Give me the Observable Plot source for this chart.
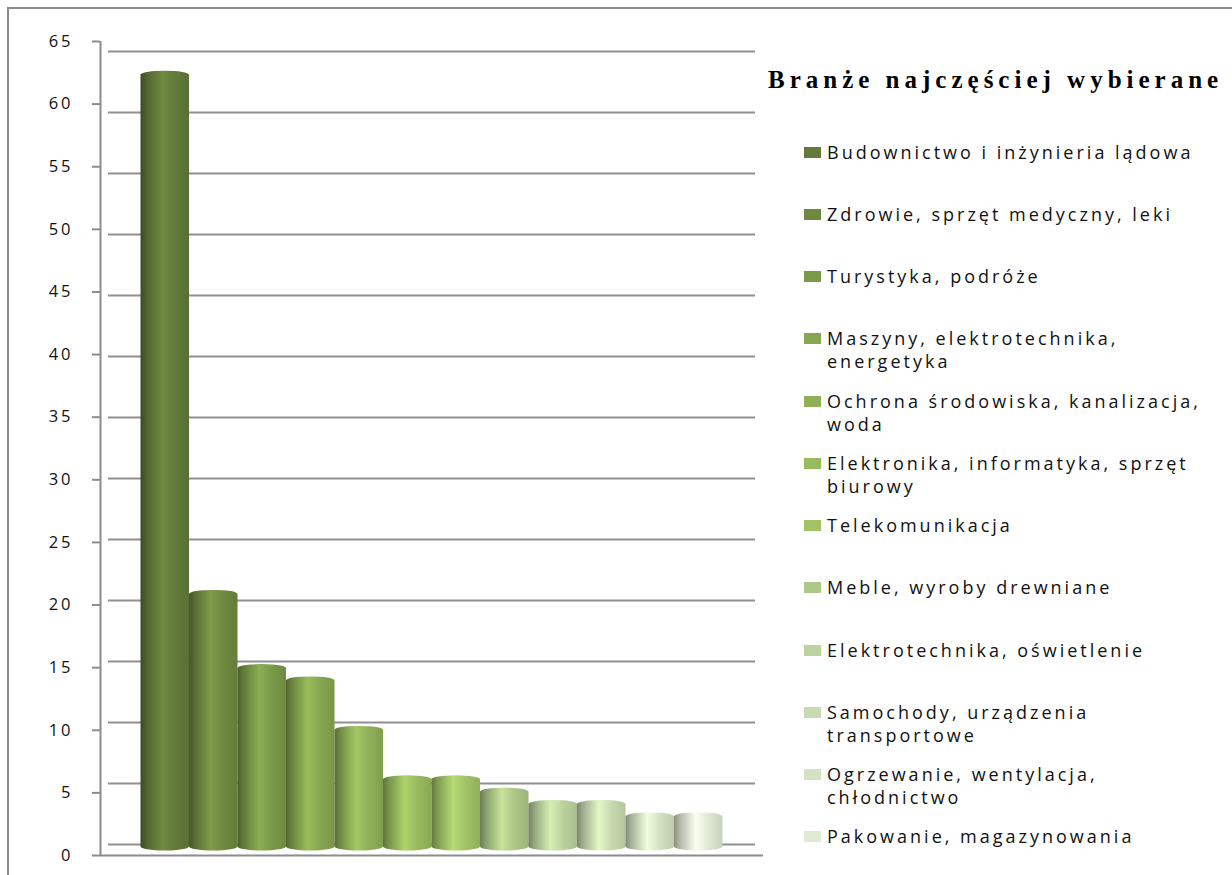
<!DOCTYPE html>
<html><head><meta charset="utf-8">
<script src="https://cdn.jsdelivr.net/npm/d3@7"></script>
<script src="https://cdn.jsdelivr.net/npm/@observablehq/plot@0.6"></script>
<style>
html,body{margin:0;padding:0;background:#fff;}
#wrap{position:relative;width:1232px;height:875px;overflow:hidden;background:#fff;}
#wrap svg{position:absolute;left:0;top:0;background:transparent;}
#border{position:absolute;left:7px;top:7px;width:1260px;height:900px;border-left:2px solid #8c8c8c;border-top:2px solid #8c8c8c;}
#ltitle{position:absolute;left:768px;top:65.5px;font-family:"Liberation Serif",serif;font-weight:bold;font-size:25px;line-height:28px;letter-spacing:5px;white-space:nowrap;color:#000;}
#items{position:absolute;left:804px;top:140.5px;}
.row{height:62.27px;display:flex;align-items:flex-start;}
.sw{width:17px;height:11px;margin-top:6px;margin-right:6px;flex:none;}
.lab{font-family:"Open Sans",sans-serif;font-size:18px;line-height:23px;letter-spacing:3px;width:382px;color:#111;}
.axisplot text{fill:#111;letter-spacing:3px;}
.axisplot{color:#8c8c8c;}
</style>
</head><body>
<div id="wrap"><div id="border"></div></div>
<script>
const categories = [
  "Budownictwo i inżynieria lądowa",
  "Zdrowie, sprzęt medyczny, leki",
  "Turystyka, podróże",
  "Maszyny, elektrotechnika, energetyka",
  "Ochrona środowiska, kanalizacja, woda",
  "Elektronika, informatyka, sprzęt biurowy",
  "Telekomunikacja",
  "Meble, wyroby drewniane",
  "Elektrotechnika, oświetlenie",
  "Samochody, urządzenia transportowe",
  "Ogrzewanie, wentylacja, chłodnictwo",
  "Pakowanie, magazynowania"
];
const values = [63, 21, 15, 14, 10, 6, 6, 5, 4, 4, 3, 3];
const colors = ["#637b3a","#6f8a40","#7b9a48","#87a650","#90b058","#99bb5e","#a1c266","#aec888","#bcd39e","#c8dab0","#d3e2c2","#dfe9d3"];
const yTicks = [0,5,10,15,20,25,30,35,40,45,50,55,60,65];
const legendTitle = "Branże najczęściej wybierane";

const data = categories.map((c, i) => ({category: c, value: values[i], grad: `url(#cyl${i})`}));
const wrap = document.getElementById("wrap");

// back wall: gridlines
const back = Plot.plot({
  width: 1232, height: 875,
  marginLeft: 108, marginRight: 477, marginTop: 51, marginBottom: 31,
  x: {domain: [0, 1], axis: null},
  y: {domain: [0, 65], axis: null},
  marks: [
    Plot.ruleY(yTicks, {stroke: "#8f8f8f", strokeWidth: 2})
  ]
});
wrap.appendChild(back);

// middle plane: cylinders
const mid = Plot.plot({
  width: 1232, height: 875,
  marginLeft: 108, marginRight: 477, marginTop: 46, marginBottom: 25.5,
  x: {type: "band", domain: categories, padding: 0, paddingOuter: 0.67, round: false, axis: null},
  y: {domain: [0, 65], axis: null},
  color: {type: "identity"},
  marks: [
    Plot.rectY(data, {x: "category", y: "value", fill: "grad", insetBottom: -1, rx: 24, ry: 4})
  ]
});
const defs = d3.select(mid).insert("defs", ":first-child");
colors.forEach((c, i) => {
  const g = defs.append("linearGradient").attr("id", `cyl${i}`).attr("x1", 0).attr("x2", 1).attr("y1", 0).attr("y2", 0);
  const stops = [
    [0, d3.color(c).darker(1.35)],
    [0.12, d3.color(c).darker(0.65)],
    [0.45, d3.color(c).brighter(0.35)],
    [0.7, d3.color(c)],
    [1, d3.color(c).darker(0.3)]
  ];
  stops.forEach(([o, col]) => g.append("stop").attr("offset", o).attr("stop-color", col.formatHex()));
});
wrap.appendChild(mid);

// front plane: value axis and floor edge
const axis = Plot.plot({
  className: "axisplot",
  width: 1232, height: 875,
  marginLeft: 100, marginRight: 469, marginTop: 41, marginBottom: 20,
  x: {domain: [0, 1], axis: null},
  y: {domain: [0, 65], ticks: yTicks, tickSize: 8, tickPadding: 19, label: null, tickFormat: d => String(d)},
  style: {fontSize: "16.5px", fontFamily: "'Open Sans', sans-serif", color: "#8c8c8c"},
  marks: [
    Plot.ruleX([0], {stroke: "#8c8c8c", strokeWidth: 2}),
    Plot.ruleY([0], {stroke: "#8c8c8c", strokeWidth: 2})
  ]
});
d3.select(axis).selectAll("line, path").filter(function(){ return this.closest("[aria-label^='y-axis']"); }).attr("stroke-width", 2);
wrap.appendChild(axis);

// legend
const t = document.createElement("div");
t.id = "ltitle"; t.textContent = legendTitle;
wrap.appendChild(t);
const items = d3.select(wrap).append("div").attr("id", "items");
const rows = items.selectAll(".row").data(categories).join("div").attr("class", "row");
rows.append("div").attr("class", "sw").style("background", (d, i) => colors[i]);
rows.append("div").attr("class", "lab").text(d => d);
</script>
</body></html>
